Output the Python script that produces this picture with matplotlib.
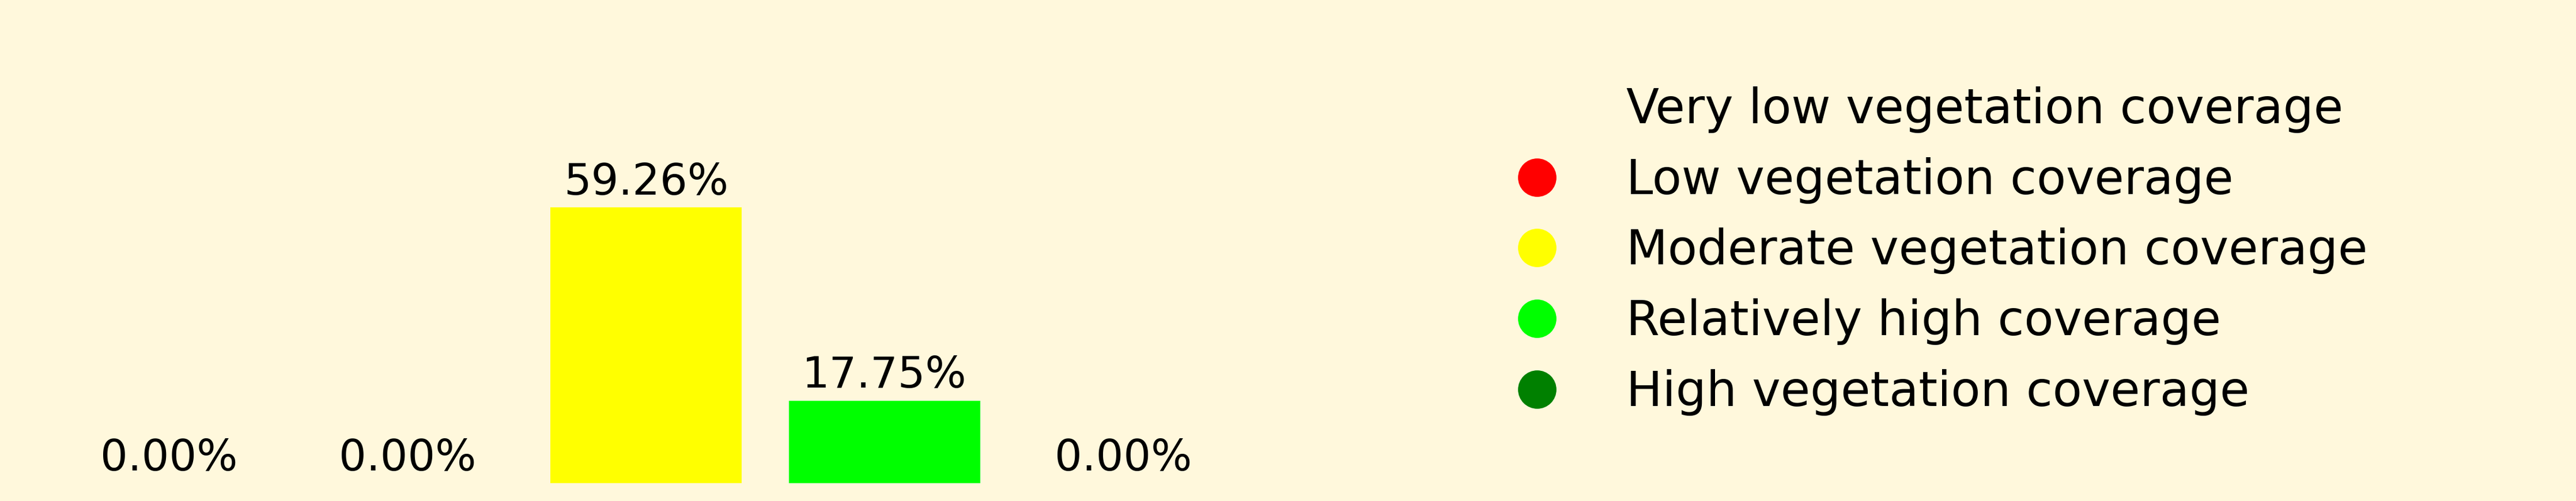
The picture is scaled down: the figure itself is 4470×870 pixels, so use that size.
import matplotlib.pyplot as plt
from matplotlib.lines import Line2D

categories = ['Very low vegetation coverage', 'Low vegetation coverage',
              'Moderate vegetation coverage', 'Relatively high coverage',
              'High vegetation coverage']
percent = [0.00, 0.00, 59.26, 17.75, 0.00]
colors = ['#FFF8DC', 'red', 'yellow', 'lime', 'green']

bg = '#FFF8DC'
fig = plt.figure(figsize=(14.9, 2.9), dpi=300, facecolor=bg)
ax = fig.add_axes([28/4470, 31/870, (2214-28)/4470, (839-336)/870])
ax.set_facecolor(bg)

x = range(len(categories))
bars = ax.bar(x, percent, color=colors, width=0.8)
ax.bar_label(bars, labels=['%.2f%%' % p for p in percent], fontsize=18, padding=1.5)
ax.axis('off')

handles = [Line2D([0], [0], marker='o', linestyle='none', markersize=15,
                  markerfacecolor=c, markeredgecolor=c) for c in colors]
fig.legend(handles, categories, loc='center left', bbox_to_anchor=(0.5705, 0.499),
           frameon=False, fontsize=20, labelspacing=0.5, handletextpad=0.86,
           borderaxespad=0)

fig.savefig('out.png', dpi=300, facecolor=bg)
